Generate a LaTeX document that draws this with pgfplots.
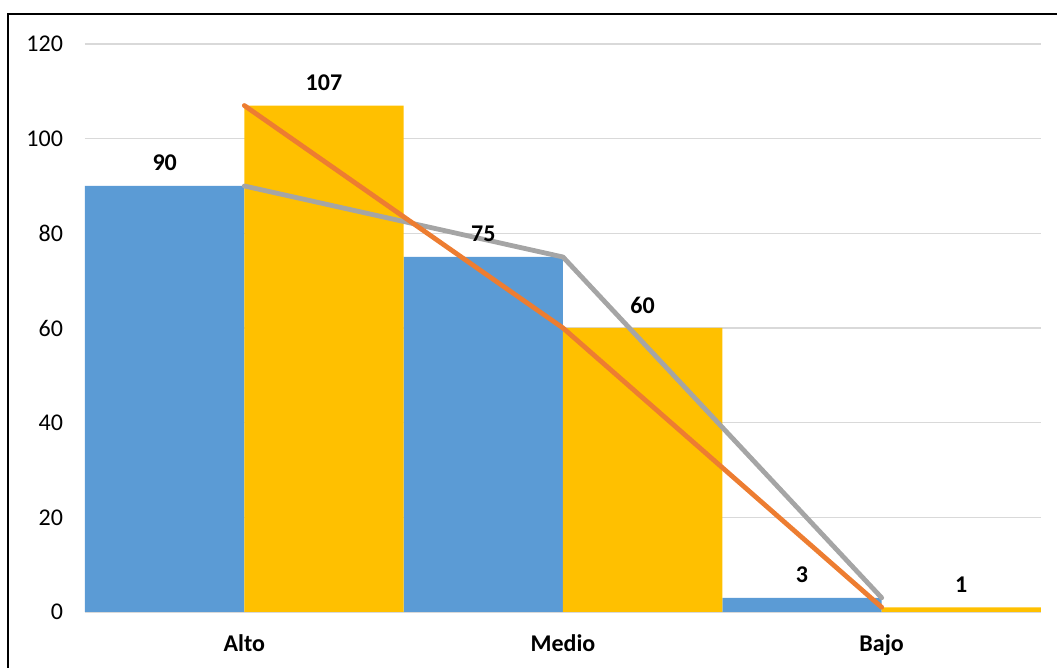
\documentclass[border=0pt]{standalone}
\usepackage{pgfplots}
\pgfplotsset{compat=1.18}
\usepackage{fontspec}
\setmainfont{Carlito}
\definecolor{cblue}{RGB}{91,155,213}
\definecolor{cyellow}{RGB}{255,192,0}
\definecolor{corange}{RGB}{237,125,49}
\definecolor{cgray}{RGB}{165,165,165}
\definecolor{cgrid}{RGB}{217,217,217}
\begin{document}
\begin{tikzpicture}
\useasboundingbox (0,0) rectangle (528.5pt,334pt);
\draw[line width=1.4pt] (4pt,0pt) -- (4pt,327pt) -- (528.5pt,327pt);
\begin{axis}[
  at={(42.5pt,28pt)}, anchor=south west,
  scale only axis, width=478pt, height=284pt,
  xmin=-0.5, xmax=2.5, ymin=0, ymax=120,
  ytick={0,20,...,120},
  xtick={0,1,2},
  xticklabels={\textbf{Alto},\textbf{Medio},\textbf{Bajo}},
  major tick length=0pt,
  ymajorgrids,
  grid style={cgrid, line width=0.8pt},
  axis x line*=bottom,
  axis y line*=left,
  y axis line style={draw=none},
  x axis line style={cgrid, line width=0.8pt, -},
  tick label style={font=\fontsize{12}{14}\selectfont, /pgf/number format/assume math mode=true},
  yticklabel style={xshift=-7.5pt},
  xticklabel style={yshift=-8pt},
  clip=false,
]
\addplot[ybar, bar width=0.5, bar shift=-0.25, fill=cblue, draw=none,
  nodes near coords={\pgfmathprintnumber[assume math mode=true]{\pgfplotspointmeta}},
  every node near coord/.style={font=\fontsize{12}{14}\selectfont\bfseries, anchor=center, xshift=-39.83pt, yshift=11.5pt, text=black}]
  coordinates {(0,90) (1,75) (2,3)};
\addplot[ybar, bar width=0.5, bar shift=0.25, fill=cyellow, draw=none,
  nodes near coords={\pgfmathprintnumber[assume math mode=true]{\pgfplotspointmeta}},
  every node near coord/.style={font=\fontsize{12}{14}\selectfont\bfseries, anchor=center, xshift=39.83pt, yshift=11.5pt, text=black}]
  coordinates {(0,107) (1,60) (2,1)};
\addplot[cgray, line width=2.4pt, line cap=round, line join=round, mark=none] coordinates {(0,90) (1,75) (2,3)};
\addplot[corange, line width=2.4pt, line cap=round, line join=round, mark=none] coordinates {(0,107) (1,60) (2,1)};
\end{axis}
\end{tikzpicture}
\end{document}
